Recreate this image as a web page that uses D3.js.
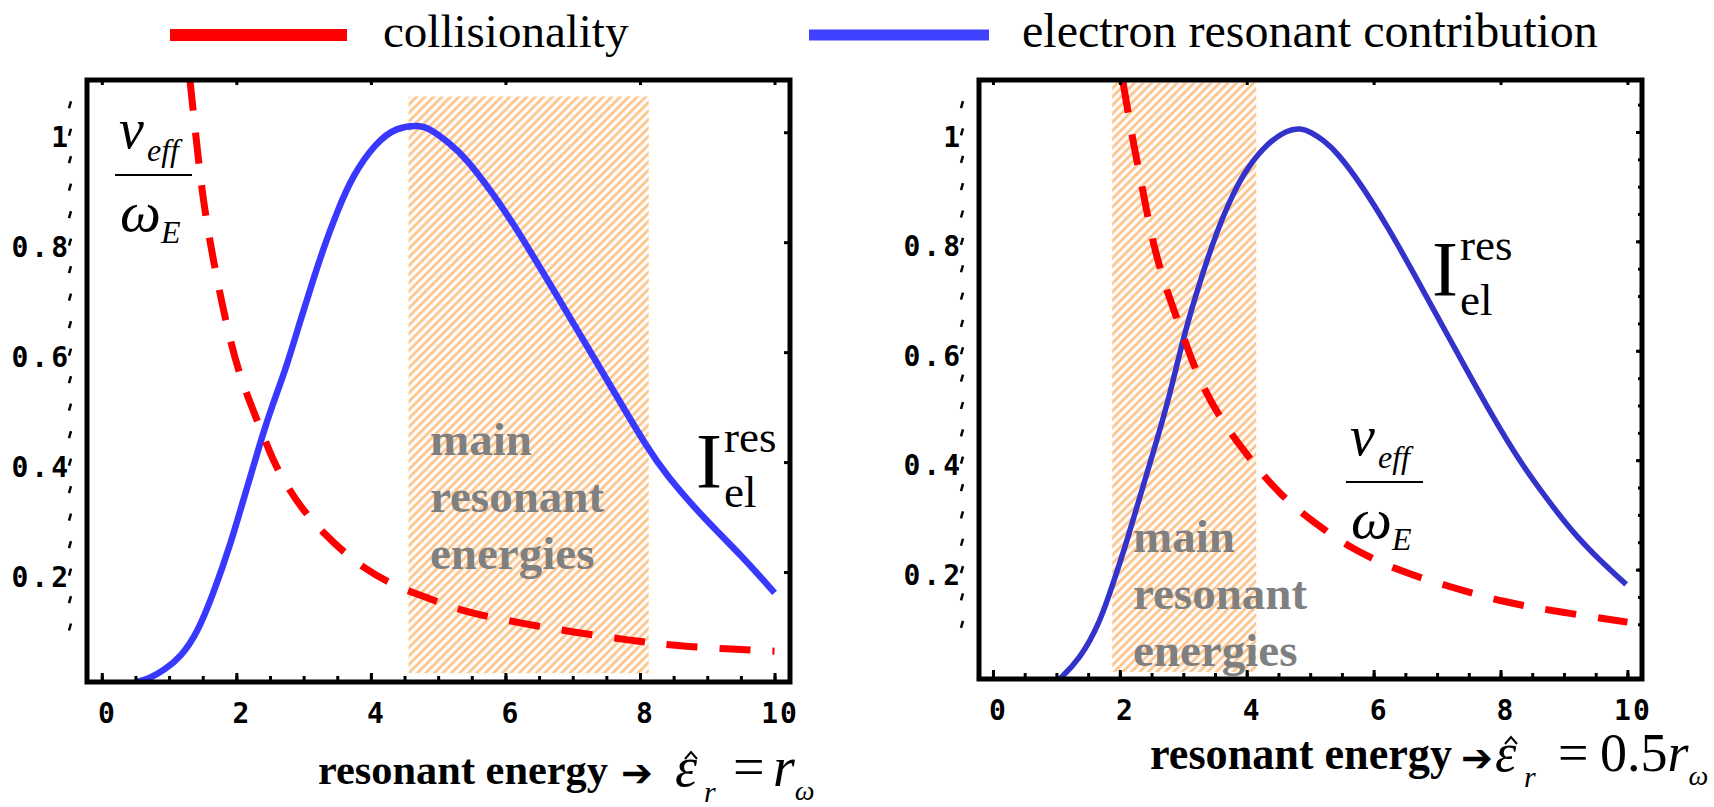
<!DOCTYPE html>
<html>
<head>
<meta charset="utf-8">
<script src="https://cdn.jsdelivr.net/npm/d3@7"></script>
<style>
  body { margin: 0; background: #fff; }
  svg { display: block; }
</style>
</head>
<body>
<div id="chart"></div>
<script>
// ---- values ----
const xTicks = [0, 2, 4, 6, 8, 10];
const yTicks = [0.2, 0.4, 0.6, 0.8, 1];
const legendLabels = ["collisionality", "electron resonant contribution"];
const bandWords = ["main", "resonant", "energies"];

// left panel: eps_r = r_omega
const leftCollision = [
  [1.31, 1.095], [1.41, 0.98], [1.5, 0.88], [1.65, 0.77], [1.86, 0.645],
  [2.05, 0.555], [2.31, 0.476], [2.56, 0.398], [2.76, 0.355], [2.97, 0.316],
  [3.29, 0.271], [3.62, 0.234], [3.9, 0.207], [4.27, 0.18], [4.63, 0.162],
  [5.02, 0.145], [5.41, 0.127], [6.22, 0.107], [7.04, 0.09], [7.85, 0.076],
  [8.5, 0.066], [9.3, 0.06], [10, 0.056]
];
const leftResonant = [
  [0.52, 0], [0.72, 0.007], [0.93, 0.022], [1.17, 0.045], [1.42, 0.089],
  [1.66, 0.162], [1.9, 0.245], [2.15, 0.35], [2.39, 0.45], [2.54, 0.505],
  [2.75, 0.575], [2.94, 0.653], [3.14, 0.731], [3.31, 0.794], [3.49, 0.853],
  [3.73, 0.922], [4.08, 0.982], [4.38, 1.009], [4.72, 1.013], [4.87, 1.007],
  [5.17, 0.98], [5.42, 0.952], [5.81, 0.889], [6.11, 0.835], [6.51, 0.755],
  [6.91, 0.673], [7.3, 0.593], [7.7, 0.51], [8.1, 0.428], [8.38, 0.378],
  [8.93, 0.3], [9.55, 0.225], [10, 0.162]
];
const leftBand = [4.56, 8.13];
const leftBandY = [0.016, 1.065];

// right panel: eps_r = 0.5 r_omega
const rightCollision = [
  [2.05, 1.091], [2.21, 0.98], [2.37, 0.889], [2.53, 0.79], [2.75, 0.706],
  [2.95, 0.644], [3.22, 0.553], [3.59, 0.474], [3.97, 0.415], [4.22, 0.378],
  [4.53, 0.338], [4.85, 0.305], [5.21, 0.274], [5.59, 0.243], [6.32, 0.2],
  [7.22, 0.168], [8.06, 0.14], [8.96, 0.122], [10, 0.104]
];
const rightResonant = [
  [1.05, 0], [1.37, 0.036], [1.69, 0.104], [1.9, 0.177], [2.12, 0.255],
  [2.32, 0.335], [2.53, 0.415], [2.8, 0.524], [3.0, 0.625], [3.27, 0.73],
  [3.54, 0.822], [3.79, 0.889], [4.01, 0.935], [4.33, 0.98], [4.64, 1.004],
  [4.85, 1.007], [5.01, 1.0], [5.21, 0.985], [5.43, 0.962], [5.8, 0.905],
  [6.22, 0.827], [6.64, 0.74], [7.06, 0.651], [7.49, 0.56], [7.9, 0.475],
  [8.3, 0.398], [8.75, 0.326], [9.16, 0.265], [9.59, 0.214], [9.98, 0.173]
];
const rightBand = [1.88, 4.15];
const rightBandY = [0.013, 1.09];

// ---- layout ----
const W = 1714, H = 807;
const serif = "'Liberation Serif', 'Times New Roman', serif";
const mono = "'DejaVu Sans Mono', monospace";
const red = "#ff0000";

const panels = [
  {
    box: { left: 87, right: 790, top: 80, bottom: 682 },
    collision: leftCollision, resonant: leftResonant,
    band: leftBand, bandY: leftBandY,
    blue: "#3838ff", blueWidth: 6.5,
    nu: [115, 175], ires: [696, 487], words: [430, 455]
  },
  {
    box: { left: 979, right: 1642, top: 80, bottom: 679 },
    collision: rightCollision, resonant: rightResonant,
    band: rightBand, bandY: rightBandY,
    blue: "#3333cc", blueWidth: 5.5,
    nu: [1346, 482], ires: [1432, 295], words: [1133, 552], rightMinor: true
  }
];

const svg = d3.select("#chart").append("svg")
  .attr("width", W).attr("height", H)
  .style("font-family", serif);

const defs = svg.append("defs");
defs.append("pattern")
  .attr("id", "hatch")
  .attr("patternUnits", "userSpaceOnUse")
  .attr("width", 6).attr("height", 6)
  .attr("patternTransform", "rotate(45)")
  .append("line")
  .attr("x1", 3).attr("y1", 0).attr("x2", 3).attr("y2", 6)
  .attr("stroke", "#fcc28a").attr("stroke-width", 2.8);

// legend
const legend = svg.append("g");
legend.append("line").attr("x1", 170).attr("x2", 347).attr("y1", 35).attr("y2", 35)
  .attr("stroke", red).attr("stroke-width", 12);
legend.append("text").attr("x", 383).attr("y", 47).attr("font-size", 47)
  .text(legendLabels[0]);
legend.append("line").attr("x1", 809).attr("x2", 989).attr("y1", 35).attr("y2", 35)
  .attr("stroke", "#4040ff").attr("stroke-width", 11);
legend.append("text").attr("x", 1022).attr("y", 47).attr("font-size", 48)
  .text(legendLabels[1]);

panels.forEach((p, i) => {
  const b = p.box;
  const x = d3.scaleLinear().domain([-0.22, 10.23]).range([b.left, b.right]);
  const y = d3.scaleLinear().domain([0, 1.095]).range([b.bottom, b.top]);
  const g = svg.append("g");

  defs.append("clipPath").attr("id", "clip" + i)
    .append("rect")
    .attr("x", b.left).attr("y", b.top)
    .attr("width", b.right - b.left).attr("height", b.bottom - b.top);

  const plot = g.append("g").attr("clip-path", `url(#clip${i})`);

  // hatched band of main resonant energies
  plot.append("rect")
    .attr("x", x(p.band[0]))
    .attr("y", y(p.bandY[1]))
    .attr("width", x(p.band[1]) - x(p.band[0]))
    .attr("height", y(p.bandY[0]) - y(p.bandY[1]))
    .attr("fill", "url(#hatch)");

  const line = d3.line()
    .x(d => x(d[0]))
    .y(d => y(d[1]))
    .curve(d3.curveBasis);

  plot.append("path")
    .datum(p.resonant)
    .attr("d", line)
    .attr("fill", "none")
    .attr("stroke", p.blue)
    .attr("stroke-width", p.blueWidth)
    .attr("stroke-linejoin", "round");

  plot.append("path")
    .datum(p.collision)
    .attr("d", line)
    .attr("fill", "none")
    .attr("stroke", red)
    .attr("stroke-width", 7)
    .attr("stroke-dasharray", "31,22");

  // "main resonant energies"
  const words = g.append("text")
    .attr("font-size", 47).attr("font-weight", "bold").attr("fill", "#808080");
  bandWords.forEach((w, k) => {
    words.append("tspan")
      .attr("x", p.words[0])
      .attr("y", p.words[1] + k * 57)
      .text(w);
  });

  // nu_eff / omega_E
  const [nx, ny] = p.nu;
  const nu = g.append("g").attr("font-style", "italic");
  nu.append("line").attr("x1", nx).attr("x2", nx + 77).attr("y1", ny).attr("y2", ny)
    .attr("stroke", "#000").attr("stroke-width", 2);
  nu.append("text").attr("x", nx + 4).attr("y", ny - 27).attr("font-size", 56).text("ν");
  nu.append("text").attr("x", nx + 32).attr("y", ny - 14).attr("font-size", 32).text("eff");
  nu.append("text").attr("x", nx + 5).attr("y", ny + 56).attr("font-size", 58).text("ω");
  nu.append("text").attr("x", nx + 46).attr("y", ny + 68).attr("font-size", 32).text("E");

  // I_el^res
  const [ix, iy] = p.ires;
  g.append("text").attr("x", ix).attr("y", iy).attr("font-size", 78).text("I");
  g.append("text").attr("x", ix + 28).attr("y", iy - 35).attr("font-size", 45).text("res");
  g.append("text").attr("x", ix + 28).attr("y", iy + 20).attr("font-size", 45).text("el");

  // frame
  g.append("rect")
    .attr("x", b.left).attr("y", b.top)
    .attr("width", b.right - b.left).attr("height", b.bottom - b.top)
    .attr("fill", "none").attr("stroke", "#000").attr("stroke-width", 5);

  const minorX = d3.range(0, 21).map(k => k * 0.5);
  const minorY = d3.range(2, 22).map(k => k * 0.05);

  const frameTicks = g.append("g").attr("stroke-width", 3);
  frameTicks.append("g").attr("transform", `translate(0,${b.bottom})`)
    .call(d3.axisBottom(x).tickValues(minorX).tickSize(-6).tickFormat(""));
  frameTicks.append("g").attr("transform", `translate(0,${b.bottom})`)
    .call(d3.axisBottom(x).tickValues(xTicks).tickSize(-9).tickFormat(""));
  frameTicks.append("g").attr("transform", `translate(0,${b.top})`)
    .call(d3.axisTop(x).tickValues(xTicks).tickSize(-5).tickFormat(""));
  frameTicks.append("g").attr("transform", `translate(${b.right},0)`)
    .call(d3.axisRight(y).tickValues(yTicks).tickSize(-6).tickFormat(""));
  if (p.rightMinor) {
    frameTicks.append("g").attr("transform", `translate(${b.right},0)`)
      .call(d3.axisRight(y).tickValues(minorY).tickSize(-4).tickFormat(""));
  }
  frameTicks.selectAll(".domain").remove();
  frameTicks.selectAll("line").attr("stroke", "#000");

  // x tick labels
  const gx = g.append("g").attr("transform", `translate(0,${b.bottom})`)
    .call(d3.axisBottom(x).tickValues(xTicks).tickSize(0).tickPadding(21).tickFormat(d3.format("d")));
  gx.select(".domain").remove();
  gx.selectAll("text")
    .attr("font-family", mono).attr("font-weight", "bold").attr("font-size", 28)
    .attr("letter-spacing", 2).attr("dx", 5).attr("fill", "#000");

  // detached y axis: small marks plus labels
  const ax = b.left - 17;
  g.append("g").selectAll("line").data(minorY).join("line")
    .attr("x1", ax + 1).attr("x2", ax - 1)
    .attr("y1", d => y(d) - 3.5).attr("y2", d => y(d) + 3.5)
    .attr("stroke", "#000").attr("stroke-width", 2.5);

  const gy = g.append("g").attr("transform", `translate(${ax + 1},0)`)
    .call(d3.axisLeft(y).tickValues(yTicks).tickSize(0).tickPadding(0)
      .tickFormat(d => d === 1 ? "1" : d.toFixed(1)));
  gy.select(".domain").remove();
  gy.selectAll("text")
    .attr("font-family", mono).attr("font-weight", "bold").attr("font-size", 28)
    .attr("letter-spacing", 3).attr("dy", "0.52em").attr("fill", "#000");
});

// x axis titles
function axisTitle(o) {
  const t = svg.append("g");
  t.append("text").attr("x", o.x).attr("y", o.base)
    .attr("font-size", o.words).attr("font-weight", "bold")
    .attr("textLength", o.len).attr("lengthAdjust", "spacingAndGlyphs")
    .text("resonant energy");
  t.append("text").attr("x", o.arrow).attr("y", o.base + 2)
    .attr("font-family", "'DejaVu Sans', sans-serif").attr("font-size", 38).text("➔");
  t.append("text").attr("x", o.eps).attr("y", o.base + 2)
    .attr("font-size", o.math).attr("font-style", "italic").text("ε");
  // circumflex over epsilon
  const hx = o.eps + 16, hy = o.base - 32;
  t.append("path")
    .attr("d", `M${hx - 6},${hy + 7}L${hx},${hy}L${hx + 6},${hy + 7}`)
    .attr("fill", "none").attr("stroke", "#000").attr("stroke-width", 2);
  t.append("text").attr("x", o.eps + 29).attr("y", o.base + 18)
    .attr("font-size", 30).attr("font-style", "italic").text("r");
  t.append("text").attr("x", o.eq).attr("y", o.base + 2)
    .attr("font-size", o.math).text("=");
  const rhs = t.append("text").attr("x", o.rhs).attr("y", o.base + 2).attr("font-size", o.math);
  if (o.coef) rhs.append("tspan").text(o.coef);
  rhs.append("tspan").attr("font-style", "italic").text("r");
  rhs.append("tspan").attr("font-style", "italic").attr("font-size", 28).attr("dy", 14).text("ω");
}

axisTitle({ x: 318, base: 784, words: 43, len: 290, math: 56, arrow: 621, eps: 675, eq: 733, rhs: 773, coef: "" });
axisTitle({ x: 1150, base: 769, words: 46, len: 302, math: 54, arrow: 1461, eps: 1495, eq: 1558, rhs: 1600, coef: "0.5" });
</script>
</body>
</html>
